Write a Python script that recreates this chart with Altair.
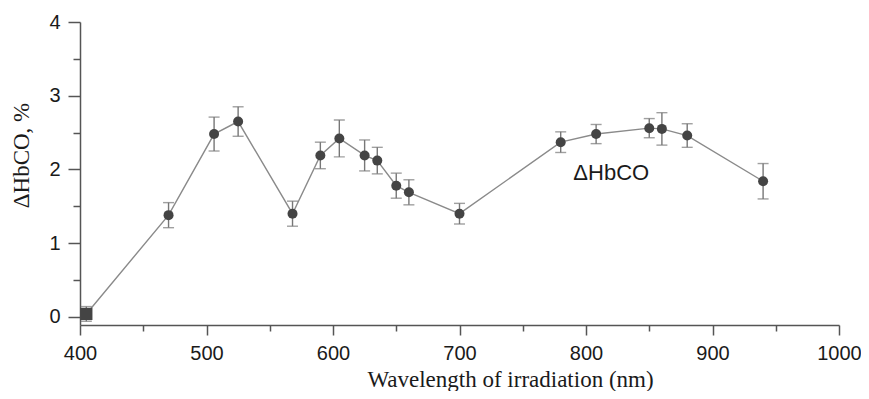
import altair as alt
import pandas as pd

wavelength = [405, 470, 506, 525, 568, 590, 605, 625, 635, 650, 660, 700, 780, 808, 850, 860, 880, 940]
dhbco = [0.04, 1.38, 2.48, 2.65, 1.40, 2.19, 2.42, 2.19, 2.12, 1.78, 1.69, 1.40, 2.37, 2.48, 2.56, 2.55, 2.46, 1.84]
error = [0.10, 0.17, 0.23, 0.20, 0.17, 0.18, 0.25, 0.21, 0.18, 0.17, 0.17, 0.14, 0.14, 0.13, 0.13, 0.22, 0.16, 0.24]
marker = ["square"] + ["circle"] * 17

x_major = [400, 500, 600, 700, 800, 900, 1000]
x_minor = [450, 550, 650, 750, 850, 950]
y_major = [0, 1, 2, 3, 4]
y_minor = [0.5, 1.5, 2.5, 3.5]

label_text = ["\u0394HbCO"]
label_x = [790]
label_y = [1.95]

df = pd.DataFrame({"wl": wavelength, "v": dhbco, "e": error, "m": marker})
df["lo"] = df["v"] - df["e"]
df["hi"] = df["v"] + df["e"]
lab = pd.DataFrame({"t": label_text, "x": label_x, "y": label_y})

AX = "#555555"
SANS = "Liberation Sans"
SERIF = "Liberation Serif"

xscale = alt.Scale(domain=[400, 1000], nice=False, zero=False)
yscale = alt.Scale(domain=[-0.11, 4.0], nice=False, zero=False)

x_axis = alt.Axis(values=x_major, format="d", tickSize=10, labelPadding=8, labelFont=SANS,
                  labelFontSize=20, labelColor="#1a1a1a", domainColor=AX, tickColor=AX,
                  domainWidth=1.5, tickWidth=1.5, grid=False, orient="bottom",
                  labelFlush=False, labelOverlap=False,
                  title="Wavelength of irradiation (nm)", titleFont=SERIF, titleFontSize=23,
                  titleFontWeight="normal", titleColor="#1a1a1a", titleX=430, titleY=61,
                  titleAlign="center", titleBaseline="alphabetic")
y_axis = alt.Axis(values=y_major, format="d", tickSize=12, labelPadding=8, labelFont=SANS,
                  labelFontSize=20, labelColor="#1a1a1a", domainColor=AX, tickColor=AX,
                  domainWidth=1.5, tickWidth=1.5, grid=False, orient="left",
                  labelFlush=False, labelOverlap=False,
                  title="\u0394HbCO, %", titleFont=SERIF, titleFontSize=23,
                  titleFontWeight="normal", titleColor="#1a1a1a", titleX=-59, titleY=133,
                  titleAngle=270, titleAlign="center", titleBaseline="middle")
x_minor_axis = alt.Axis(values=x_minor, tickSize=6, labels=False, domain=False, tickColor=AX,
                        tickWidth=1.5, grid=False, orient="bottom", title=None)
y_minor_axis = alt.Axis(values=y_minor, tickSize=7, labels=False, domain=False, tickColor=AX,
                        tickWidth=1.5, grid=False, orient="left", title=None)

base = alt.Chart(df)

line = base.mark_line(color="#8a8a8a", strokeWidth=1.4).encode(
    x=alt.X("wl:Q", scale=xscale, axis=x_axis),
    y=alt.Y("v:Q", scale=yscale, axis=y_axis),
)
rules = base.mark_rule(color="#777777", strokeWidth=1.4).encode(
    x=alt.X("wl:Q", scale=xscale, axis=None),
    y=alt.Y("lo:Q", scale=yscale, axis=None), y2="hi:Q")
caps_lo = base.mark_tick(color="#777777", orient="horizontal", size=11, thickness=1.4).encode(
    x=alt.X("wl:Q", scale=xscale, axis=None), y=alt.Y("lo:Q", scale=yscale, axis=None))
caps_hi = base.mark_tick(color="#777777", orient="horizontal", size=11, thickness=1.4).encode(
    x=alt.X("wl:Q", scale=xscale, axis=None), y=alt.Y("hi:Q", scale=yscale, axis=None))
circles = base.transform_filter(alt.datum.m == "circle").mark_point(
    shape="circle", filled=True, size=100, color="#444444", opacity=1).encode(
    x=alt.X("wl:Q", scale=xscale, axis=None), y=alt.Y("v:Q", scale=yscale, axis=None))
squares = base.transform_filter(alt.datum.m == "square").mark_point(
    shape="square", filled=True, size=150, color="#444444", opacity=1).encode(
    x=alt.X("wl:Q", scale=xscale, axis=None), y=alt.Y("v:Q", scale=yscale, axis=None))
text = alt.Chart(lab).mark_text(font=SANS, fontSize=22, align="left", baseline="middle",
                                color="#1a1a1a").encode(
    x=alt.X("x:Q", scale=xscale, axis=None), y=alt.Y("y:Q", scale=yscale, axis=None),
    text="t:N")
minor = base.mark_point(opacity=0).encode(
    x=alt.X("wl:Q", scale=xscale, axis=x_minor_axis),
    y=alt.Y("v:Q", scale=yscale, axis=y_minor_axis))

chart = alt.layer(minor, line, rules, caps_lo, caps_hi, circles, squares, text).resolve_axis(
    x="independent", y="independent").properties(
    width=759, height=303,
    autosize=alt.AutoSizeParams(type="none"),
    padding={"left": 72, "top": 14, "right": 22, "bottom": 66},
    background="white",
).configure_view(stroke=None, strokeWidth=0)

chart.save("out.html", embed_options={"renderer": "svg", "actions": False})
